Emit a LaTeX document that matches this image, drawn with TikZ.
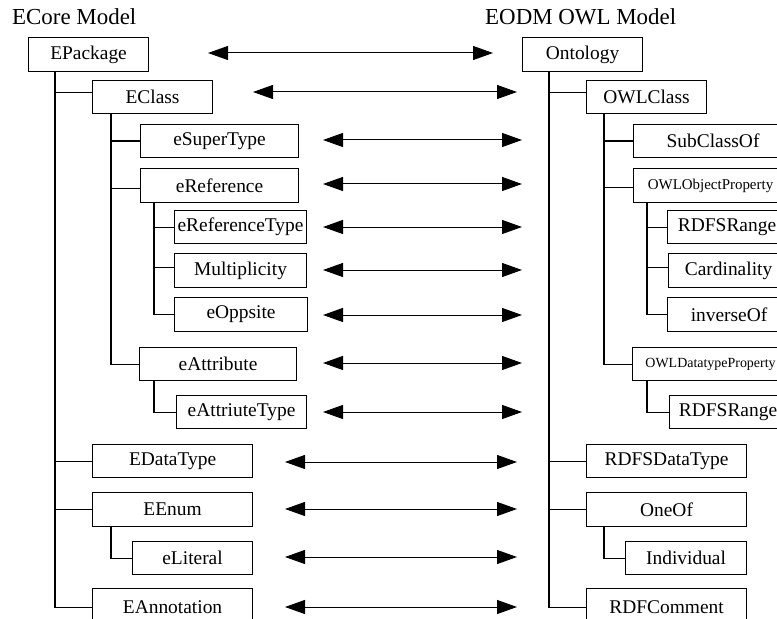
\documentclass[tikz,border=0pt]{standalone}
\usepackage{fontspec}
\setmainfont{Liberation Serif}
\usetikzlibrary{arrows.meta}
\tikzset{
  box/.style={draw, line width=1.1bp, inner sep=0pt, align=center, font=\fontsize{19.5}{22}\selectfont},
  smallbox/.style={box, font=\fontsize{15}{17}\selectfont},
  tinybox/.style={box, font=\fontsize{14}{16}\selectfont},
  title/.style={inner sep=0pt, font=\fontsize{23}{26}\selectfont},
  tree/.style={line width=1.1bp},
  dbl/.style={line width=1bp, {Triangle[length=20bp,width=14bp]}-{Triangle[length=20bp,width=14bp]}}
}
\newcommand\bx[7][box]{%
  \pgfmathsetmacro\bw{#5-#3}\pgfmathsetmacro\bh{#6-#4}%
  \node[#1,anchor=north west,minimum width=\bw bp,minimum height=\bh bp] (#2) at (#3,#4) {#7};}
\begin{document}
\begin{tikzpicture}[x=1bp,y=-1bp]
\useasboundingbox (0,0) rectangle (777,619);
\clip (0,0) rectangle (777,619);
% titles
\node[title,anchor=base west] (tl) at (12,25) {ECore Model};
\node[title,anchor=base west] (tr) at (485,25) {EODM OWL Model};
% left boxes
\bx{epkg}{28}{37}{148}{71}{EPackage}
\bx{eclass}{92}{80}{212}{113}{EClass}
\bx{esuper}{140}{124}{298}{157}{eSuperType}
\bx{eref}{140}{168}{298}{202}{eReference}
\bx{ereft}{174}{210}{306}{243}{eReferenceType}
\bx{emult}{174}{253}{306}{287}{Multiplicity}
\bx{eopp}{174}{297}{307}{331}{eOppsite}
\bx{eattr}{139}{347}{296}{380}{eAttribute}
\bx{eattrt}{176}{395}{306}{428}{eAttriuteType}
\bx{edt}{92}{444}{252}{477}{EDataType}
\bx{eenum}{92}{492}{252}{526}{EEnum}
\bx{elit}{132}{541}{252}{574}{eLiteral}
\bx{eann}{92}{588}{252}{626}{EAnnotation}
% right boxes
\bx{ont}{522}{37}{642}{71}{Ontology}
\bx{owlc}{586}{80}{706}{113}{OWLClass}
\bx{subc}{633}{124}{792}{157}{SubClassOf}
\bx[smallbox]{oop}{633}{168}{787}{202}{OWLObjectProperty}
\bx{rng}{667}{210}{786}{243}{RDFSRange}
\bx{card}{668}{253}{788}{287}{Cardinality}
\bx{inv}{667}{297}{790}{331}{inverseOf}
\bx[tinybox]{odp}{632}{347}{788}{380}{OWLDatatypeProperty}
\bx{rngb}{669}{395}{786}{428}{RDFSRange}
\bx{rdt}{586}{444}{746}{477}{RDFSDataType}
\bx{oneof}{586}{492}{746}{526}{OneOf}
\bx{indiv}{625}{541}{746}{574}{Individual}
\bx{rcom}{586}{588}{746}{626}{RDFComment}
% trunk x positions
\coordinate (kA) at (55,0);
\coordinate (kB) at (111,0);
\coordinate (kC) at (154,0);
\coordinate (kD) at (549,0);
\coordinate (kE) at (604,0);
\coordinate (kF) at (647,0);
% left tree
\draw[tree] (epkg.south -| kA) |- ([yshift=4.5bp]eclass.west);
\draw[tree] (epkg.south -| kA) |- (edt.west);
\draw[tree] (epkg.south -| kA) |- (eenum.west);
\draw[tree] (epkg.south -| kA) |- (eann.west);
\draw[tree] (eclass.south -| kB) |- (esuper.west);
\draw[tree] (eclass.south -| kB) |- ([yshift=-3bp]eref.west);
\draw[tree] (eclass.south -| kB) |- (eattr.west);
\draw[tree] (eref.south -| kC) |- (ereft.west);
\draw[tree] (eref.south -| kC) |- ([yshift=3bp]emult.west);
\draw[tree] (eref.south -| kC) |- (eopp.west);
\draw[tree] (eattr.south -| kC) |- (eattrt.west);
\draw[tree] (eenum.south -| kB) |- (elit.west);
% right tree
\draw[tree] (ont.south -| kD) |- ([yshift=4.5bp]owlc.west);
\draw[tree] (ont.south -| kD) |- (rdt.west);
\draw[tree] (ont.south -| kD) |- (oneof.west);
\draw[tree] (ont.south -| kD) |- (rcom.west);
\draw[tree] (owlc.south -| kE) |- (subc.west);
\draw[tree] (owlc.south -| kE) |- ([yshift=-2bp]oop.west);
\draw[tree] (owlc.south -| kE) |- (odp.west);
\draw[tree] (oop.south -| kF) |- (rng.west);
\draw[tree] (oop.south -| kF) |- ([yshift=3bp]card.west);
\draw[tree] (oop.south -| kF) |- (inv.west);
\draw[tree] (odp.south -| kF) |- (rngb.west);
\draw[tree] (oneof.south -| kE) |- (indiv.west);
% mapping arrows
\coordinate (a1l) at (208,53);  \coordinate (a1r) at (493,53);
\coordinate (a2l) at (253,92);  \coordinate (a2r) at (517,92);
\coordinate (a3l) at (323,140); \coordinate (a3r) at (522,140);
\coordinate (a4l) at (323,184); \coordinate (a4r) at (522,184);
\coordinate (a5l) at (323,227); \coordinate (a5r) at (522,227);
\coordinate (a6l) at (323,270); \coordinate (a6r) at (522,270);
\coordinate (a7l) at (323,315); \coordinate (a7r) at (522,315);
\coordinate (a8l) at (323,363); \coordinate (a8r) at (522,363);
\coordinate (a9l) at (323,412); \coordinate (a9r) at (522,412);
\coordinate (a10l) at (285,462); \coordinate (a10r) at (517,462);
\coordinate (a11l) at (285,509); \coordinate (a11r) at (517,509);
\coordinate (a12l) at (285,557); \coordinate (a12r) at (517,557);
\coordinate (a13l) at (285,607); \coordinate (a13r) at (517,607);
\foreach \i in {1,...,13} {\draw[dbl] (a\i l) -- (a\i r);}
\end{tikzpicture}
\end{document}
